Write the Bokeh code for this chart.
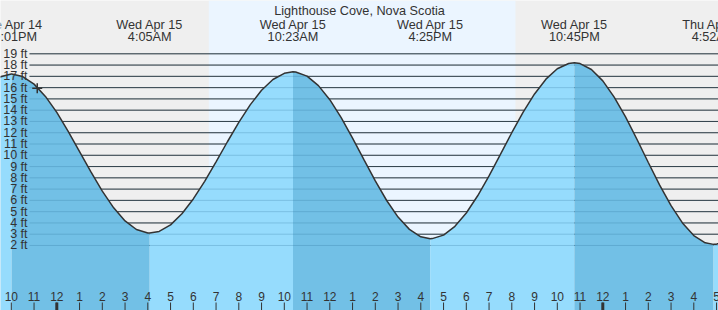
from bokeh.plotting import figure
from bokeh.core.properties import value
from bokeh.embed import file_html
from bokeh.resources import INLINE

# ---- data (time axis: hours after Tue Apr 14, 10:00 PM) ----
chart_title = "Lighthouse Cove, Nova Scotia"
# tide extremes
extreme_times = [0.017, 6.083, 12.383, 18.417, 24.75, 30.867]
extreme_heights = [17.2, 3.1, 17.4, 2.6, 18.2, 2.1]
label_days = ["Tue Apr 14", "Wed Apr 15", "Wed Apr 15", "Wed Apr 15", "Wed Apr 15", "Thu Apr 16"]
label_clock = ["10:01PM", "4:05AM", "10:23AM", "4:25PM", "10:45PM", "4:52AM"]
# tide height read every half hour, from -0.5 h to 31.5 h
curve_times = [i * 0.5 for i in range(-1, 64)]
curve_heights = [
    16.95, 17.20, 16.98, 16.31, 15.22, 13.80, 12.13, 10.33, 8.52, 6.82,
    5.34, 4.18, 3.42, 3.11, 3.25, 3.83, 4.81, 6.13, 7.69, 9.42,
    11.20, 12.92, 14.47, 15.77, 16.72, 17.27, 17.39, 17.02, 16.18, 14.93,
    13.34, 11.53, 9.61, 7.73, 5.99, 4.52, 3.43, 2.77, 2.61, 2.92,
    3.70, 4.88, 6.41, 8.17, 10.08, 12.00, 13.83, 15.44, 16.75, 17.67,
    18.14, 18.13, 17.61, 16.60, 15.16, 13.40, 11.42, 9.36, 7.35, 5.53,
    4.00, 2.88, 2.24, 2.12, 2.49,
]
hour_ticks = list(range(0, 32))
hour_labels = ["10", "11", "12", "1", "2", "3", "4", "5", "6", "7", "8", "9", "10", "11",
               "12", "1", "2", "3", "4", "5", "6", "7", "8", "9", "10", "11",
               "12", "1", "2", "3", "4", "5"]
midnight_ticks = [2, 26]
ft_ticks = list(range(2, 20))
ft_labels = [f"{v} ft" for v in ft_ticks]
sunrise, sunset = 8.68, 22.16
now_time, now_height = 1.14, 15.95

# ---- layout helpers (pixel -> data) ----
PX_PER_H = 22.75
X_OFF = 10.8
PX_PER_FT = 11.276
Y19 = 53.3
W, H = 718, 310


def tx(px):
    return (px - X_OFF) / PX_PER_H


def fy(px):
    return 19 - (px - Y19) / PX_PER_FT


X0, X1 = tx(0), tx(W)
YT, YB = fy(0), fy(H)

p = figure(width=W, height=H, x_range=(X0, X1), y_range=(YB, YT),
           toolbar_location=None, output_backend="svg", min_border=0)
p.title.visible = False
p.xaxis.visible = False
p.yaxis.visible = False
p.grid.visible = False
p.outline_line_color = None
p.background_fill_color = "#efefef"
p.border_fill_color = "#efefef"

# daylight band
p.quad(left=[sunrise], right=[sunset], bottom=[YB], top=[YT], color="#ebf5ff", line_color=None)

# grid lines
gx0 = tx(29)
p.segment(x0=[gx0] * len(ft_ticks), x1=[X1] * len(ft_ticks), y0=ft_ticks, y1=ft_ticks,
          line_color="#333333", line_width=1)

# merged series: half-hour readings plus the extremes
pts = sorted(list(zip(curve_times, curve_heights)) + list(zip(extreme_times, extreme_heights)))
all_t = [a for a, _ in pts]
all_h = [b for _, b in pts]

# water, split at each extreme: rising = light, falling = dark
LIGHT, DARK = "#96dcfd", "#72c0e6"
bounds = [all_t[0]] + extreme_times + [all_t[-1]]
for i in range(len(bounds) - 1):
    a, b = bounds[i], bounds[i + 1]
    seg = [(t, h) for t, h in pts if a <= t <= b]
    if len(seg) < 2:
        continue
    ts = [s[0] for s in seg]
    hs = [s[1] for s in seg]
    col = LIGHT if hs[-1] > hs[0] else DARK
    p.varea(x=ts, y1=[YB - 1] * len(ts), y2=hs, fill_color=col)

# faint grid lines under water
p.segment(x0=[gx0] * len(ft_ticks), x1=[X1] * len(ft_ticks), y0=ft_ticks, y1=ft_ticks,
          line_color="#2a6f99", line_alpha=0.25, line_width=1)

p.line(all_t, all_h, line_color="#333333", line_width=1.5)

TXT = "#333333"
FONT = value("Liberation Sans")

p.text(x=[tx(27)] * len(ft_ticks), y=ft_ticks, text=ft_labels, text_align="right",
       text_baseline="middle", text_font=FONT, text_font_size="12.5px", text_color=TXT)

# hour ticks and labels
p.text(x=hour_ticks, y=[fy(296)] * len(hour_ticks), text=hour_labels, text_align="center",
       text_baseline="middle", text_font=FONT, text_font_size="12px", text_color=TXT)
p.segment(x0=hour_ticks, x1=hour_ticks, y0=[fy(302)] * len(hour_ticks), y1=[YB] * len(hour_ticks),
          line_color=TXT, line_width=1)
p.segment(x0=midnight_ticks, x1=midnight_ticks, y0=[fy(302)] * 2, y1=[YB] * 2,
          line_color=TXT, line_width=3)

# top labels
p.text(x=[(X0 + X1) / 2], y=[fy(10.7)], text=[chart_title], text_align="center",
       text_baseline="alphabetic", text_font=FONT, text_font_size="12.7px", text_color=TXT)
p.text(x=extreme_times, y=[fy(24.3)] * len(extreme_times), text=label_days, text_align="center",
       text_baseline="alphabetic", text_font=FONT, text_font_size="12.7px", text_color=TXT)
p.text(x=extreme_times, y=[fy(36.3)] * len(extreme_times), text=label_clock, text_align="center",
       text_baseline="alphabetic", text_font=FONT, text_font_size="12.7px", text_color=TXT)

# current time marker
p.scatter(x=[now_time], y=[now_height], marker="cross", size=10, line_color="#333333",
          line_width=1.5)

open("out.html", "w").write(file_html(p, INLINE))
